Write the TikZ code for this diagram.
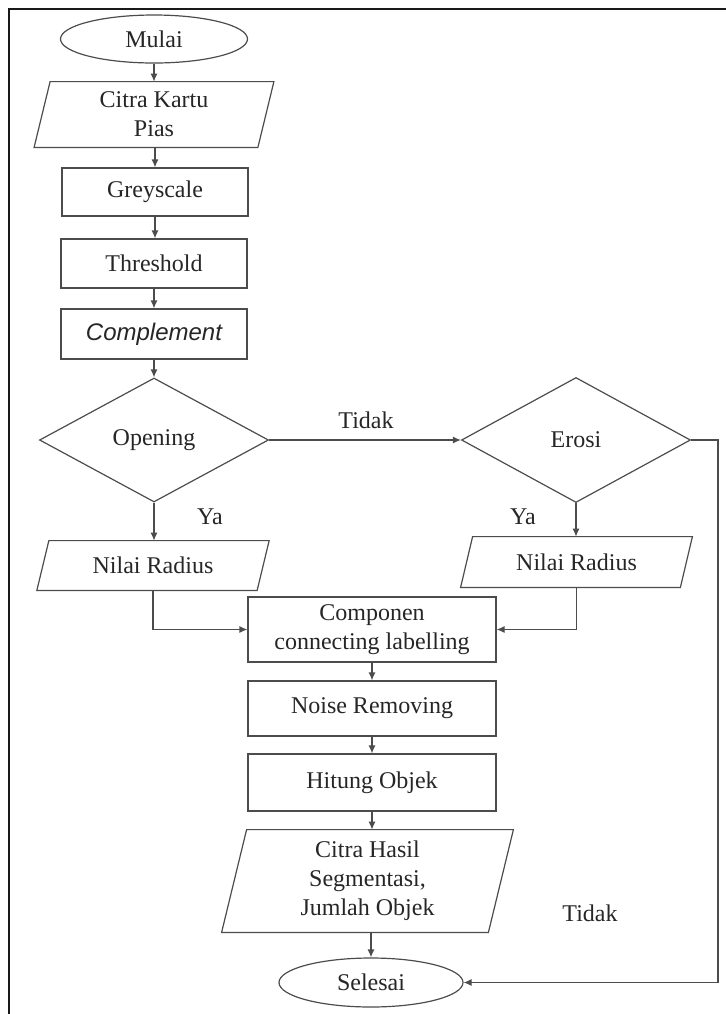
\documentclass[tikz,border=0pt]{standalone}
\usepackage{fontspec}
\setmainfont{Liberation Serif}
\newfontfamily\arialfont{Liberation Sans}
\usetikzlibrary{shapes.geometric,arrows.meta}
\begin{document}
\begin{tikzpicture}[x=0.5pt,y=-0.5pt,
  every node/.style={font=\fontsize{12}{14.5}\selectfont, text=black!85},
  line/.style={draw=black!70, line width=0.6pt},
  arrow/.style={line, -{Latex[length=4pt,width=3.5pt]}},
  proc/.style={line, rectangle, inner sep=0pt, align=center},
  term/.style={line, ellipse, inner sep=0pt},
  dec/.style={line, diamond, inner sep=0pt, aspect=1.85},
  io/.style={rectangle, inner sep=0pt, align=center},
  lbl/.style={inner sep=0pt}]
\useasboundingbox (0,0) rectangle (726,1014);
% frame (top and left edges only)
\draw[black!90, line width=1pt] (9,1014) -- (9,9) -- (726,9);

% nodes
\node[term, minimum width=93.5pt, minimum height=24pt] (mulai) at (154,39) {Mulai};
\node[io, minimum width=111.5pt, minimum height=32.5pt] (c1) at (154,114.5) {Citra Kartu\\Pias};
\node[proc, minimum width=93pt, minimum height=24pt] (grey) at (155,192) {Greyscale};
\node[proc, minimum width=93pt, minimum height=24.5pt] (thr) at (154,263.5) {Threshold};
\node[proc, minimum width=93pt, minimum height=25pt] (comp) at (154,334) {\arialfont\itshape Complement};
\node[dec, minimum width=114.5pt, minimum height=62pt] (open) at (154,440) {Opening};
\node[dec, minimum width=114.5pt, minimum height=62.5pt] (eros) at (576,440) {Erosi};
\node[io, minimum width=109.75pt, minimum height=24.5pt] (nr1) at (153,565.5) {Nilai Radius};
\node[io, minimum width=109.5pt, minimum height=25pt] (nr2) at (576.5,562) {Nilai Radius};
\node[proc, minimum width=124pt, minimum height=32.5pt] (ccl) at (372,629.5) {Componen\\connecting labelling};
\node[proc, minimum width=124pt, minimum height=27.5pt] (noise) at (372,708.5) {Noise Removing};
\node[proc, minimum width=124pt, minimum height=28.5pt] (hit) at (372,782.5) {Hitung Objek};
\node[io, minimum width=133pt, minimum height=51pt] (out) at (367.5,881) {Citra Hasil\\Segmentasi,\\Jumlah Objek};
\node[term, minimum width=92pt, minimum height=24.5pt] (sel) at (371,982.5) {Selesai};

% parallelogram outlines
\draw[line] ([xshift=4pt]c1.north west) -- ([xshift=4pt]c1.north east) -- ([xshift=-4pt]c1.south east) -- ([xshift=-4pt]c1.south west) -- cycle;
\draw[line] ([xshift=3pt]nr1.north west) -- ([xshift=3pt]nr1.north east) -- ([xshift=-3pt]nr1.south east) -- ([xshift=-3pt]nr1.south west) -- cycle;
\draw[line] ([xshift=3pt]nr2.north west) -- ([xshift=3pt]nr2.north east) -- ([xshift=-3pt]nr2.south east) -- ([xshift=-3pt]nr2.south west) -- cycle;
\draw[line] ([xshift=6.25pt]out.north west) -- ([xshift=6.25pt]out.north east) -- ([xshift=-6.25pt]out.south east) -- ([xshift=-6.25pt]out.south west) -- cycle;

% labels
\node[lbl] (tidak1) at (366,420) {Tidak};
\node[lbl] (ya1) at (210,517) {Ya};
\node[lbl] (ya2) at (523,517) {Ya};
\node[lbl] (tidak2) at (590,913) {Tidak};

% connectors
\coordinate (loop) at (718,440);
\draw[arrow] (mulai.south) -- (c1.north);
\draw[arrow] (c1.south) -- (c1.south -| grey.north) -- (grey.north);
\draw[arrow] (grey.south) -- (grey.south |- thr.north);
\draw[arrow] (thr.south) -- (comp.north);
\draw[arrow] (comp.south) -- (open.north);
\draw[arrow] (open.east) -- (eros.west);
\draw[arrow] (open.south) -- (open.south |- nr1.north);
\draw[arrow] (eros.south) -- (eros.south |- nr2.north);
\draw[arrow] (nr1.south) |- (ccl.west);
\draw[arrow] (nr2.south) |- (ccl.east);
\draw[arrow] (ccl.south) -- (noise.north);
\draw[arrow] (noise.south) -- (hit.north);
\draw[arrow] (hit.south) -- (hit.south |- out.north);
\draw[arrow] (sel.north |- out.south) -- (sel.north);
\draw[arrow] (eros.east) -- (loop) |- (sel.east);
\end{tikzpicture}
\end{document}
